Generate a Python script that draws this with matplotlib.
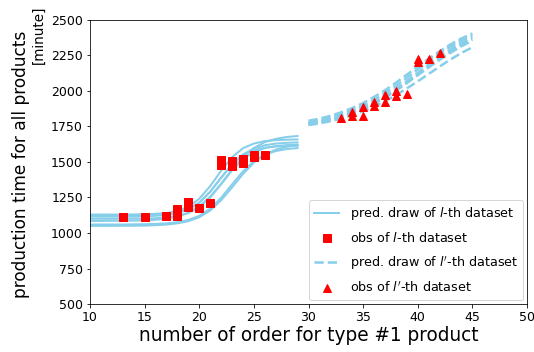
import numpy as np
import matplotlib
matplotlib.use('Agg')
import matplotlib.pyplot as plt

# observed points of the l-th dataset
sq_x = [13, 15, 17, 18, 18, 19, 19, 20, 21, 22, 22, 23, 23, 24, 24, 25, 25, 26]
sq_y = [1110, 1110, 1118, 1172, 1122, 1215, 1180, 1177, 1212,
        1516, 1480, 1505, 1472, 1522, 1490, 1548, 1535, 1548]

# observed points of the l'-th dataset
tri_x = [33, 34, 34, 35, 35, 36, 36, 37, 37, 38, 38, 39, 40, 40, 41, 42]
tri_y = [1810, 1853, 1827, 1884, 1827, 1926, 1892, 1974, 1922,
         2002, 1965, 1977, 2227, 2205, 2225, 2269]

# predictive draws for l-th dataset (x = 10..29)
pred_x = list(range(10, 30))
pred_draws = [
    [1130, 1130, 1130, 1130, 1131, 1132, 1135, 1141, 1155, 1184,
     1241, 1330, 1438, 1534, 1597, 1630, 1647, 1654, 1657, 1659],
    [1115, 1115, 1115, 1115, 1116, 1118, 1121, 1127, 1140, 1166,
     1214, 1290, 1388, 1483, 1553, 1595, 1618, 1630, 1635, 1638],
    [1100, 1100, 1100, 1100, 1101, 1102, 1104, 1109, 1120, 1141,
     1182, 1250, 1343, 1441, 1520, 1570, 1598, 1612, 1619, 1622],
    [1085, 1085, 1086, 1086, 1087, 1089, 1093, 1101, 1116, 1142,
     1187, 1256, 1347, 1447, 1535, 1599, 1640, 1663, 1676, 1683],
    [1060, 1060, 1060, 1060, 1061, 1062, 1064, 1068, 1076, 1092,
     1121, 1171, 1248, 1342, 1434, 1506, 1551, 1577, 1591, 1598],
    [1050, 1050, 1050, 1051, 1051, 1052, 1055, 1059, 1068, 1083,
     1111, 1158, 1230, 1321, 1415, 1496, 1552, 1587, 1607, 1618],
    [1125, 1125, 1125, 1125, 1126, 1127, 1129, 1134, 1145, 1168,
     1214, 1291, 1390, 1483, 1547, 1583, 1601, 1609, 1612, 1614],
]

# predictive draws for l'-th dataset (x = 30..45)
pred2_x = list(range(30, 46))
pred2_draws = [
    [1790, 1805, 1825, 1850, 1880, 1915, 1958, 2005, 2058, 2115,
     2172, 2228, 2280, 2328, 2370, 2405],
    [1780, 1795, 1813, 1836, 1864, 1898, 1938, 1985, 2037, 2093,
     2152, 2210, 2264, 2313, 2356, 2392],
    [1772, 1786, 1803, 1825, 1851, 1883, 1921, 1965, 2015, 2070,
     2128, 2186, 2242, 2293, 2338, 2377],
    [1765, 1778, 1795, 1816, 1842, 1873, 1910, 1953, 2002, 2056,
     2113, 2170, 2225, 2277, 2323, 2363],
    [1760, 1772, 1787, 1806, 1829, 1857, 1890, 1928, 1971, 2018,
     2068, 2120, 2172, 2222, 2268, 2308],
    [1768, 1782, 1800, 1822, 1849, 1881, 1918, 1960, 2007, 2058,
     2112, 2166, 2219, 2269, 2315, 2355],
]


def main():
    fig = plt.figure(figsize=(534 / 72, 352 / 72), dpi=72)
    ax = fig.add_axes([90 / 534, 48 / 352, 437 / 534, 284 / 352])

    for i, d in enumerate(pred_draws):
        ax.plot(pred_x, d, color='skyblue', lw=2,
                label='pred. draw of $l$-th dataset' if i == 0 else None)
    ax.plot(sq_x, sq_y, 's', color='red', ms=8, ls='none',
            label='obs of $l$-th dataset')
    for i, d in enumerate(pred2_draws):
        ax.plot(pred2_x, d, '--', color='skyblue', lw=2.5,
                label="pred. draw of $l'$-th dataset" if i == 0 else None)
    ax.plot(tri_x, tri_y, '^', color='red', ms=8, ls='none',
            label="obs of $l'$-th dataset")

    ax.set_xlim(10, 50)
    ax.set_ylim(500, 2500)
    ax.tick_params(labelsize=12.5)
    ax.set_xlabel('number of order for type #1 product', fontsize=18.5,
                  labelpad=2)
    ax.set_ylabel('production time for all products', fontsize=17)
    ax.yaxis.set_label_coords(-0.137, 0.493)
    fig.text(38.5 / 534, 1 - 5 / 352, '[minute]', rotation=90,
             ha='center', va='top', fontsize=13.5)
    ax.legend(loc='lower right', fontsize=12.8, labelspacing=0.7,
              borderaxespad=0.3)

    fig.savefig('out.png', dpi=72)


if __name__ == '__main__':
    main()
